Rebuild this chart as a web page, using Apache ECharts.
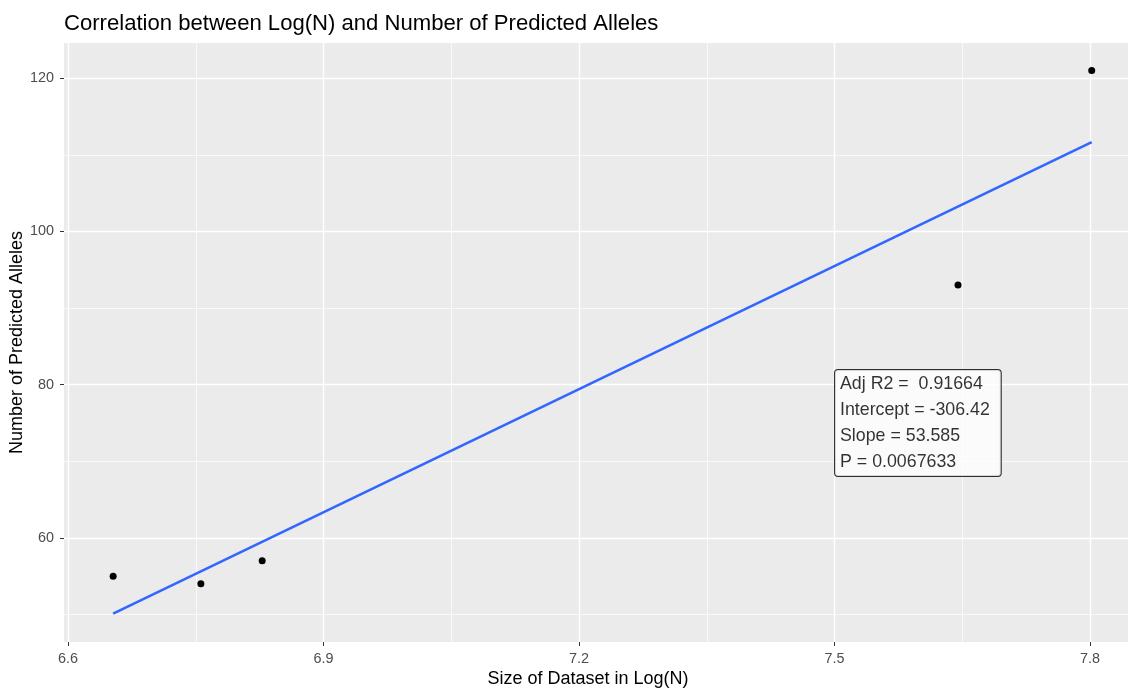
<!DOCTYPE html>
<html>
<head>
<meta charset="utf-8">
<script src="https://cdn.jsdelivr.net/npm/echarts@6/dist/echarts.min.js"></script>
<style>
  html, body { margin: 0; padding: 0; background: #fff; }
  #chart { width: 1128px; height: 689px; }
</style>
</head>
<body>
<div id="chart"></div>
<script>
// observed data, log(N) vs predicted alleles
const logN = [6.653, 6.756, 6.828, 7.645, 7.802];
const alleles = [55, 54, 57, 93, 121];

// fitted line end points (lm fit)
const fitX = [6.653, 7.802];
const fitY = [50.1, 111.65];

// ticks
const xTicks = [6.6, 6.9, 7.2, 7.5, 7.8];
const xMinor = [6.75, 7.05, 7.35, 7.65];
const yTicks = [60, 80, 100, 120];
const yMinor = [50, 70, 90, 110];

// fit summary label
const statsPos = [7.5, 75];
const statsLines = ['Adj R2 =  0.91664', 'Intercept = -306.42', 'Slope = 53.585', 'P = 0.0067633'];

const font = "'Liberation Sans', Arial, sans-serif";
const xMin = 6.5953, xMax = 7.8446;
const yMin = 46.4, yMax = 124.6;

const chart = echarts.init(document.getElementById('chart'));

const minorAxis = (min, max, vals) => ({
  type: 'value', min, max,
  axisLine: { show: false },
  axisTick: { show: false, customValues: vals },
  axisLabel: { show: false, customValues: vals },
  splitLine: { show: true, lineStyle: { color: '#fff', width: 0.7 } }
});

chart.setOption({
  animation: false,
  backgroundColor: '#fff',
  title: {
    text: 'Correlation between Log(N) and Number of Predicted Alleles',
    left: 59, top: 8,
    textStyle: { fontFamily: font, fontSize: 22.1, fontWeight: 'normal', color: '#000' }
  },
  grid: {
    left: 64, right: 0, top: 43, bottom: 47,
    containLabel: false, outerBoundsMode: 'none',
    show: true, backgroundColor: '#EBEBEB', borderWidth: 0
  },
  xAxis: [
    {
      type: 'value', min: xMin, max: xMax,
      name: 'Size of Dataset in Log(N)', nameLocation: 'middle', nameGap: 28, nameMoveOverlap: false,
      nameTextStyle: { fontFamily: font, fontSize: 18, color: '#000', padding: [0, 16, 0, 0] },
      axisLine: { show: false },
      axisTick: { show: true, length: 4, customValues: xTicks, lineStyle: { color: '#333', width: 1 } },
      axisLabel: { customValues: xTicks, margin: 10, fontFamily: font, fontSize: 14.4, color: '#4D4D4D',
        formatter: v => v.toFixed(1) },
      splitLine: { show: true, lineStyle: { color: '#fff', width: 1.4 } }
    },
    minorAxis(xMin, xMax, xMinor)
  ],
  yAxis: [
    {
      type: 'value', min: yMin, max: yMax,
      name: 'Number of Predicted Alleles', nameLocation: 'middle', nameGap: 38, nameMoveOverlap: false,
      nameTextStyle: { fontFamily: font, fontSize: 18, color: '#000' },
      axisLine: { show: false },
      axisTick: { show: true, length: 4, customValues: yTicks, lineStyle: { color: '#333', width: 1 } },
      axisLabel: { customValues: yTicks, margin: 10, fontFamily: font, fontSize: 14.4, color: '#4D4D4D' },
      splitLine: { show: true, lineStyle: { color: '#fff', width: 1.4 } }
    },
    minorAxis(yMin, yMax, yMinor)
  ],
  series: [
    {
      type: 'line',
      data: fitX.map((x, i) => [x, fitY[i]]),
      showSymbol: false,
      lineStyle: { color: '#3366FF', width: 2.6 },
      silent: true, z: 3
    },
    {
      type: 'scatter',
      data: logN.map((x, i) => [x, alleles[i]]),
      symbolSize: 7,
      itemStyle: { color: '#000', opacity: 1 },
      z: 4
    },
    {
      type: 'scatter',
      data: [statsPos],
      symbolSize: 1,
      itemStyle: { color: 'rgba(0,0,0,0)' },
      silent: true, z: 5,
      label: {
        show: true, position: 'right', distance: 0,
        formatter: statsLines.join('\n'),
        fontFamily: font, fontSize: 17.8, lineHeight: 26, color: '#000', align: 'left',
        backgroundColor: '#fff', borderColor: '#000', borderWidth: 1, borderRadius: 3,
        padding: [1, 11, 1, 5]
      }
    }
  ]
});
</script>
</body>
</html>
